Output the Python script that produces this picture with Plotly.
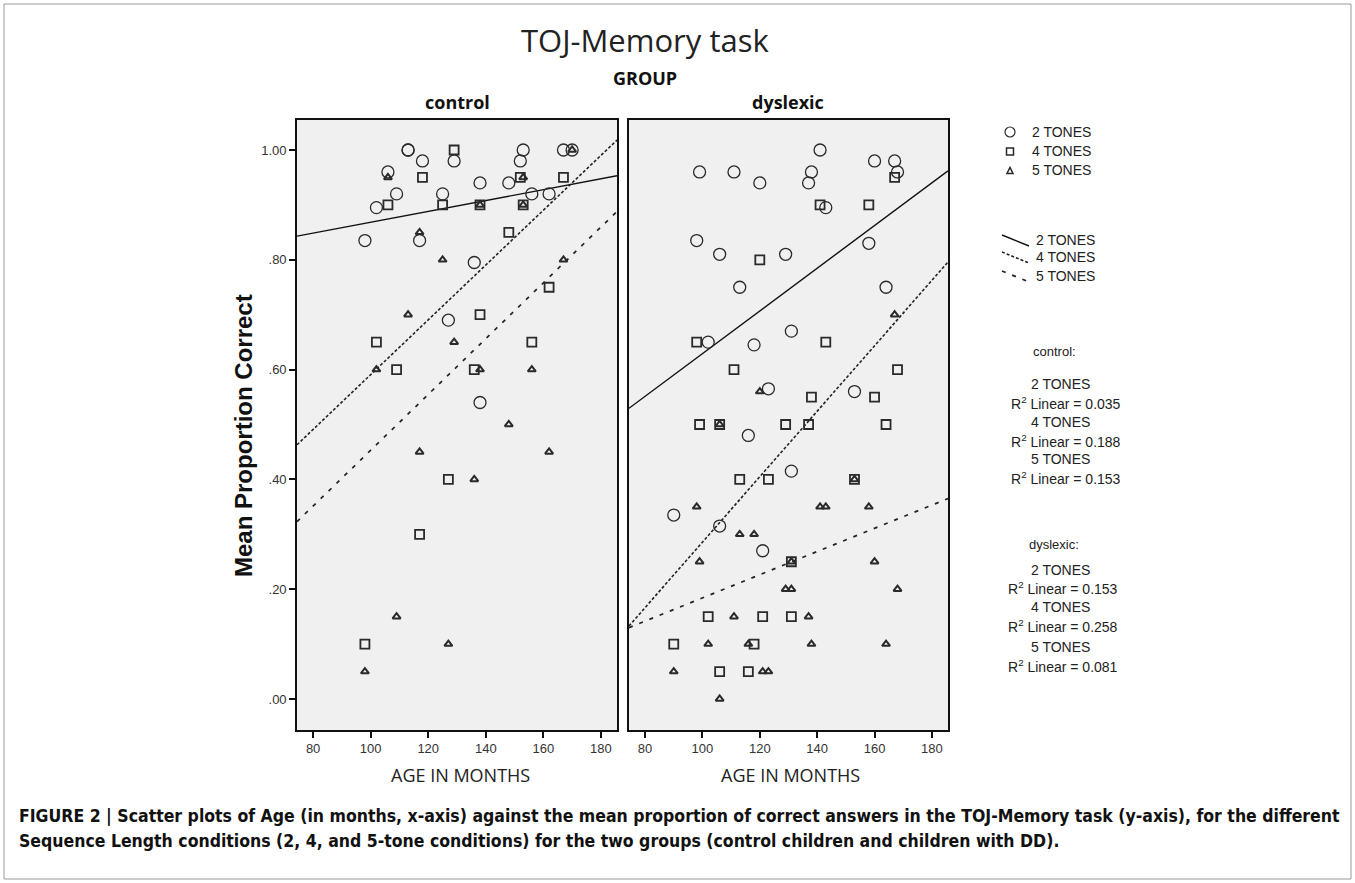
import plotly.graph_objects as go

W, H = 1355, 883

# ---------------- data ----------------
ctrl_2_age = [113, 113, 118, 129, 106, 109, 102, 98, 117, 125, 138, 148, 152, 153, 156, 162, 167, 170, 136, 127, 138]
ctrl_2_val = [1.00, 1.00, 0.98, 0.98, 0.96, 0.92, 0.895, 0.835, 0.835, 0.92, 0.94, 0.94, 0.98, 1.00, 0.92, 0.92, 1.00, 1.00, 0.795, 0.69, 0.54]

ctrl_4_age = [129, 118, 106, 125, 138, 153, 152, 167, 148, 162, 138, 102, 109, 136, 156, 127, 117, 98]
ctrl_4_val = [1.00, 0.95, 0.90, 0.90, 0.90, 0.90, 0.95, 0.95, 0.85, 0.75, 0.70, 0.65, 0.60, 0.60, 0.65, 0.40, 0.30, 0.10]

ctrl_5_age = [106, 117, 125, 138, 153, 153, 167, 113, 170, 102, 129, 138, 156, 148, 117, 162, 136, 109, 127, 98]
ctrl_5_val = [0.95, 0.85, 0.80, 0.90, 0.90, 0.95, 0.80, 0.70, 1.00, 0.60, 0.65, 0.60, 0.60, 0.50, 0.45, 0.45, 0.40, 0.15, 0.10, 0.05]

dys_2_age = [99, 111, 120, 141, 138, 137, 143, 160, 167, 168, 98, 106, 129, 158, 113, 164, 131, 102, 118, 123, 153, 116, 131, 90, 106, 121]
dys_2_val = [0.96, 0.96, 0.94, 1.00, 0.96, 0.94, 0.895, 0.98, 0.98, 0.96, 0.835, 0.81, 0.81, 0.83, 0.75, 0.75, 0.67, 0.65, 0.645, 0.565, 0.56, 0.48, 0.415, 0.335, 0.315, 0.27]

dys_4_age = [167, 141, 158, 120, 98, 143, 111, 168, 138, 160, 99, 106, 129, 137, 164, 113, 123, 153, 131, 102, 121, 131, 90, 118, 106, 116]
dys_4_val = [0.95, 0.90, 0.90, 0.80, 0.65, 0.65, 0.60, 0.60, 0.55, 0.55, 0.50, 0.50, 0.50, 0.50, 0.50, 0.40, 0.40, 0.40, 0.25, 0.15, 0.15, 0.15, 0.10, 0.10, 0.05, 0.05]

dys_5_age = [167, 120, 98, 141, 143, 158, 113, 118, 99, 160, 131, 129, 131, 168, 111, 137, 102, 116, 138, 164, 90, 121, 123, 106, 106, 153]
dys_5_val = [0.70, 0.56, 0.35, 0.35, 0.35, 0.35, 0.30, 0.30, 0.25, 0.25, 0.25, 0.20, 0.20, 0.20, 0.15, 0.15, 0.10, 0.10, 0.10, 0.10, 0.05, 0.05, 0.05, 0.00, 0.50, 0.40]

# fitted regression lines, values at the two ends of the age range
fit_age = [74.4, 185.6]
ctrl_fit_2 = [0.843, 0.953]
ctrl_fit_4 = [0.463, 1.018]
ctrl_fit_5 = [0.323, 0.888]
dys_fit_2 = [0.5295, 0.962]
dys_fit_4 = [0.133, 0.796]
dys_fit_5 = [0.130, 0.365]

series_names = ["2 TONES", "4 TONES", "5 TONES"]
r2_control = [0.035, 0.188, 0.153]
r2_dyslexic = [0.153, 0.258, 0.081]

y_tickvals = [0.0, 0.2, 0.4, 0.6, 0.8, 1.0]
y_ticktext = [".00", ".20", ".40", ".60", ".80", "1.00"]
x_tickvals = [80, 100, 120, 140, 160, 180]

# ---------------- styling ----------------
INK = "#2a2a2a"
marker_styles = [
    dict(symbol="circle-open", size=12, color=INK, line=dict(width=1.3)),
    dict(symbol="square-open", size=9, color=INK, line=dict(width=1.8)),
    dict(symbol="triangle-up-open", size=7, color=INK, line=dict(width=2.0)),
]
line_styles = [
    dict(color="#111", width=1.4, dash="solid"),
    dict(color="#222", width=1.6, dash="3px,2px"),
    dict(color="#222", width=1.7, dash="4px,7px"),
]


def px(x):
    return x / W


def py(y):
    return 1 - y / H


fig = go.Figure()

groups = [
    ("x", "y", [(ctrl_2_age, ctrl_2_val), (ctrl_4_age, ctrl_4_val), (ctrl_5_age, ctrl_5_val)],
     [ctrl_fit_2, ctrl_fit_4, ctrl_fit_5]),
    ("x2", "y2", [(dys_2_age, dys_2_val), (dys_4_age, dys_4_val), (dys_5_age, dys_5_val)],
     [dys_fit_2, dys_fit_4, dys_fit_5]),
]
for xa, ya, pts, fits in groups:
    for i, fit in enumerate(fits):
        fig.add_trace(go.Scatter(x=fit_age, y=fit, mode="lines", line=line_styles[i],
                                 xaxis=xa, yaxis=ya, showlegend=False, hoverinfo="skip"))
    for i, (ages, vals) in enumerate(pts):
        fig.add_trace(go.Scatter(x=ages, y=vals, mode="markers", marker=marker_styles[i],
                                 name=series_names[i], xaxis=xa, yaxis=ya, showlegend=False))

# panel geometry (pixels)
c_left, c_right = 297, 617
d_left, d_right = 629, 948
p_top, p_bot = 120, 730

axis_common = dict(showline=True, linecolor="#111", linewidth=1.6, mirror=True,
                   ticks="outside", ticklen=6, tickwidth=1.6, tickcolor="#111",
                   showgrid=False, zeroline=False,
                   tickfont=dict(family="Liberation Sans, Arial", size=13, color="#333"))

fig.update_layout(
    width=W, height=H, margin=dict(l=0, r=0, t=0, b=0),
    paper_bgcolor="white", plot_bgcolor="#f0f0f0", showlegend=False,
    xaxis=dict(domain=[px(c_left), px(c_right)], range=fit_age, tickvals=x_tickvals,
               anchor="y", **axis_common),
    yaxis=dict(domain=[py(p_bot), py(p_top)], range=[-0.0565, 1.0546], tickvals=y_tickvals,
               ticktext=y_ticktext, anchor="x", **axis_common),
    xaxis2=dict(domain=[px(d_left), px(d_right)], range=fit_age, tickvals=x_tickvals,
                anchor="y2", **axis_common),
    yaxis2=dict(domain=[py(p_bot), py(p_top)], range=[-0.0565, 1.0546], tickvals=y_tickvals,
                showticklabels=False, ticks="", anchor="x2",
                **{k: v for k, v in axis_common.items() if k not in ("ticks",)}),
)

ann = []


def text(x, y, s, size=13, family="Liberation Sans, Arial", color="#222", xanchor="center",
         bold=False, angle=0):
    ann.append(dict(x=px(x), y=py(y), xref="paper", yref="paper", text=s, showarrow=False,
                    xanchor=xanchor, yanchor="middle", textangle=angle,
                    font=dict(size=size, family=family, color=color,
                              weight="bold" if bold else "normal")))


# titles
text(645, 40, "TOJ-Memory task", size=31, family="Open Sans", color="#222")
text(645, 78, "GROUP", size=18, family="Open Sans", bold=True, color="#111")
text(457, 102, "control", size=18, family="Open Sans", bold=True, color="#111")
text(788, 102, "dyslexic", size=18, family="Open Sans", bold=True, color="#111")
text(244, 436, "Mean Proportion Correct", size=24, family="Liberation Sans, Arial", bold=True,
     color="#111", angle=-90)
text(460, 775, "AGE IN MONTHS", size=18, family="Open Sans", color="#222")
text(790, 775, "AGE IN MONTHS", size=18, family="Open Sans", color="#222")

# legend: markers
shapes = []
leg_y = [132, 151, 170]
for i, name in enumerate(series_names):
    text(1030, leg_y[i], name, size=14, xanchor="left")
# circle
shapes.append(dict(type="circle", xref="paper", yref="paper", x0=px(1005), x1=px(1015),
                   y0=py(137), y1=py(127), line=dict(color=INK, width=1.2)))
# square
shapes.append(dict(type="rect", xref="paper", yref="paper", x0=px(1006.5), x1=px(1013.5),
                   y0=py(155), y1=py(148), line=dict(color=INK, width=1.5)))
# triangle
shapes.append(dict(type="path", xref="paper", yref="paper",
                   path=f"M {px(1007)} {py(173.5)} L {px(1013)} {py(173.5)} L {px(1010)} {py(167.5)} Z",
                   line=dict(color=INK, width=1.5)))

# legend: lines
line_leg_y = [240, 257, 276]
for i, name in enumerate(series_names):
    y0 = line_leg_y[i] - 5
    shapes.append(dict(type="line", xref="paper", yref="paper", x0=px(1002), x1=px(1029),
                       y0=py(y0), y1=py(y0 + 11), line=line_styles[i]))
    text(1034, line_leg_y[i], name, size=14, xanchor="left")

# R^2 text
text(1054, 351, "control:", size=13)
ctrl_y = [384, 403, 422, 441, 459, 478]
for i, name in enumerate(series_names):
    text(1060, ctrl_y[2 * i], name, size=14)
    text(1066, ctrl_y[2 * i + 1], f"R<sup>2</sup> Linear = {r2_control[i]:.3f}", size=14)
text(1054, 544, "dyslexic:", size=13)
dys_y = [570, 588, 607, 626, 647, 666]
for i, name in enumerate(series_names):
    text(1060, dys_y[2 * i], name, size=14)
    text(1063, dys_y[2 * i + 1], f"R<sup>2</sup> Linear = {r2_dyslexic[i]:.3f}", size=14)

# caption
cap1 = ("FIGURE 2 | Scatter plots of Age (in months, x-axis) against the mean proportion of correct answers "
        "in the TOJ-Memory task (y-axis), for the different")
cap2 = ("Sequence Length conditions (2, 4, and 5-tone conditions) for the two groups "
        "(control children and children with DD).")
text(17, 816, cap1, size=17.5, family="DejaVu Sans Condensed, Liberation Sans", bold=True, xanchor="left", color="#111")
text(17, 841, cap2, size=17.5, family="DejaVu Sans Condensed, Liberation Sans", bold=True, xanchor="left", color="#111")

# outer frame
shapes.append(dict(type="rect", xref="paper", yref="paper", x0=px(4), x1=px(1351), y0=py(879), y1=py(4),
                   line=dict(color="#9a9a9a", width=1)))

fig.update_layout(annotations=ann, shapes=shapes)
fig.write_html("out.html")
